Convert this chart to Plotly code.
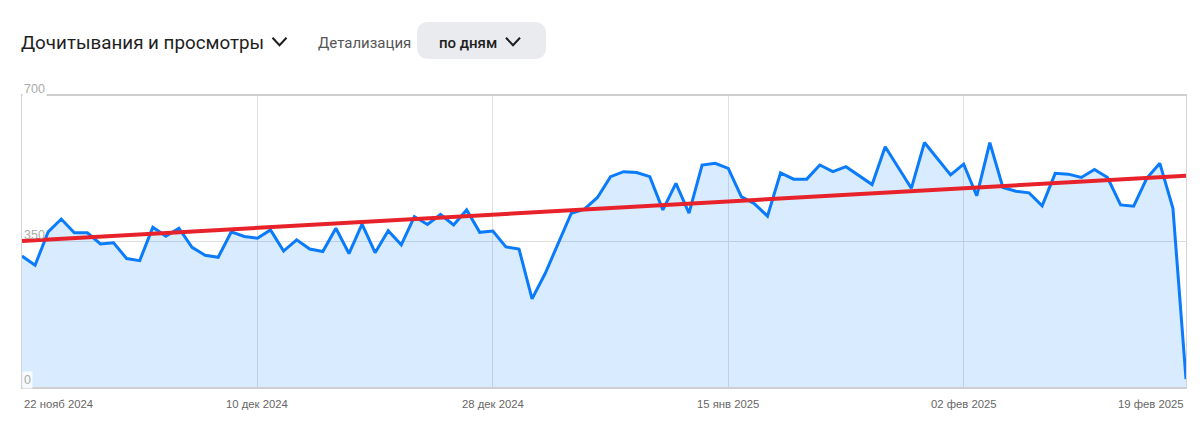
import pandas as pd
import plotly.graph_objects as go

# ---- data ----
start_date = "2024-11-22"
values = [315, 293, 373, 404, 371, 371, 344, 347, 309, 304,
          384, 363, 382, 336, 317, 312, 373, 362, 358, 378,
          327, 354, 332, 326, 382, 321, 392, 323, 376, 342,
          410, 391, 415, 390, 426, 372, 375, 337, 332, 212,
          273, 346, 418, 428, 456, 506, 518, 516, 506, 426,
          490, 418, 534, 538, 526, 458, 441, 411, 515, 500,
          500, 534, 518, 530, 509, 487, 578, 528, 478, 588,
          550, 510, 536, 460, 588, 480, 471, 467, 436, 514,
          512, 504, 523, 504, 438, 435, 502, 538, 430, 19]
dates = pd.date_range(start_date, periods=len(values), freq="D")
trend_values = [351, 508]
tick_dates = ["2024-11-22", "2024-12-10", "2024-12-28", "2025-01-15", "2025-02-02", "2025-02-19"]
tick_labels = ["22 нояб 2024", "10 дек 2024", "28 дек 2024", "15 янв 2025", "02 фев 2025", "19 фев 2025"]
y_ticks = [0, 350, 700]
title_text = "Дочитывания и просмотры"
detail_text = "Детализация"
button_text = "по дням"

# ---- layout geometry (page pixels; page body has an 8px margin) ----
OFF = 8
W, H = 1200 - OFF, 441 - OFF
L, R, T, B = 22, 1186, 96, 387   # plot area in page pixels


def px(x):
    return (x - L) / (R - L)


def py(y):
    return (B - y) / (B - T)


fig = go.Figure()
fig.add_trace(go.Scatter(
    x=dates, y=values, mode="lines",
    line=dict(color="#0a7bfa", width=3),
    fill="tozeroy", fillcolor="rgba(0,122,255,0.15)",
    hoverinfo="skip",
))
fig.add_trace(go.Scatter(
    x=[dates[0], dates[-1]], y=trend_values, mode="lines",
    line=dict(color="#e8222a", width=4),
    hoverinfo="skip",
))

annotations = []
# x tick labels
for i, (d, t) in enumerate(zip(tick_dates, tick_labels)):
    anchor = "left" if i == 0 else ("right" if i == len(tick_dates) - 1 else "center")
    annotations.append(dict(
        x=d, xref="x", y=py(404), yref="paper", text=t, showarrow=False,
        xanchor=anchor, yanchor="middle",
        font=dict(family="Liberation Sans, Arial, sans-serif", size=11.3, color="#666666"),
    ))
# y tick labels
y_label_pos = {0: 380, 350: 235, 700: 89}
y_label_bg = {0: "rgba(255,255,255,0.8)", 350: "rgba(0,0,0,0)", 700: "white"}
for v in y_ticks:
    annotations.append(dict(
        x=px(22), xref="paper", y=py(y_label_pos[v]), yref="paper", text=str(v),
        showarrow=False, xanchor="left", yanchor="middle",
        bgcolor=y_label_bg[v], borderpad=1,
        font=dict(family="Liberation Sans, Arial, sans-serif", size=12.5, color="#ababab"),
    ))
# header
annotations.append(dict(
    x=px(19), xref="paper", y=py(43), yref="paper", text=title_text, showarrow=False,
    xanchor="left", yanchor="middle",
    font=dict(family="Roboto, sans-serif", size=18.8, color="#1e1e1e"),
))
annotations.append(dict(
    x=px(316), xref="paper", y=py(43), yref="paper", text=detail_text, showarrow=False,
    xanchor="left", yanchor="middle",
    font=dict(family="Roboto, sans-serif", size=15, color="#555555"),
))
annotations.append(dict(
    x=px(437), xref="paper", y=py(43), yref="paper", text=button_text, showarrow=False,
    xanchor="left", yanchor="middle",
    font=dict(family="Roboto, sans-serif", size=15, color="#1e1e1e", weight=500),
))


def chevron(cx, cy, hw, hh):
    return (f"M {px(cx - hw)} {py(cy - hh)} L {px(cx)} {py(cy + hh)} "
            f"L {px(cx + hw)} {py(cy - hh)}")


def rounded_rect(x0, y0, x1, y1, r):
    return (f"M {px(x0 + r)} {py(y0)} L {px(x1 - r)} {py(y0)} "
            f"Q {px(x1)} {py(y0)} {px(x1)} {py(y0 + r)} "
            f"L {px(x1)} {py(y1 - r)} Q {px(x1)} {py(y1)} {px(x1 - r)} {py(y1)} "
            f"L {px(x0 + r)} {py(y1)} Q {px(x0)} {py(y1)} {px(x0)} {py(y1 - r)} "
            f"L {px(x0)} {py(y0 + r)} Q {px(x0)} {py(y0)} {px(x0 + r)} {py(y0)} Z")


shapes = [
    dict(type="path", xref="paper", yref="paper", path=rounded_rect(417, 22, 546, 59, 12),
         fillcolor="#e9ebef", line=dict(width=0), layer="below"),
    dict(type="path", xref="paper", yref="paper", path=chevron(279.5, 41.5, 7, 3.8),
         line=dict(color="#1e1e1e", width=2)),
    dict(type="path", xref="paper", yref="paper", path=chevron(513, 41.5, 7, 3.8),
         line=dict(color="#1e1e1e", width=2)),
    # white mask behind the "350" label (hides the gridline, stays under the traces)
    dict(type="rect", xref="paper", yref="paper", x0=px(23), x1=px(45),
         y0=py(244), y1=py(227), fillcolor="white", line=dict(width=0), layer="below"),
]

fig.update_layout(
    width=W, height=H,
    margin=dict(l=L - OFF, r=W - (R - OFF), t=T - OFF, b=H - (B - OFF), pad=0),
    paper_bgcolor="white", plot_bgcolor="white",
    showlegend=False,
    annotations=annotations,
    shapes=shapes,
    xaxis=dict(
        range=[dates[0], dates[-1]], type="date",
        tickvals=tick_dates[1:-1], showticklabels=False,
        showgrid=True, gridcolor="#dde1e6", gridwidth=1,
        showline=True, linecolor="#cfcfcf", linewidth=2, mirror=True,
        zeroline=False, ticks="",
    ),
    yaxis=dict(
        range=[0, 700], tickvals=y_ticks, showticklabels=False,
        showgrid=True, gridcolor="#dddddd", gridwidth=1,
        showline=True, linecolor="#d4d4d4", linewidth=1, mirror=True,
        zeroline=False, ticks="",
    ),
)

fig.write_html("out.html")
